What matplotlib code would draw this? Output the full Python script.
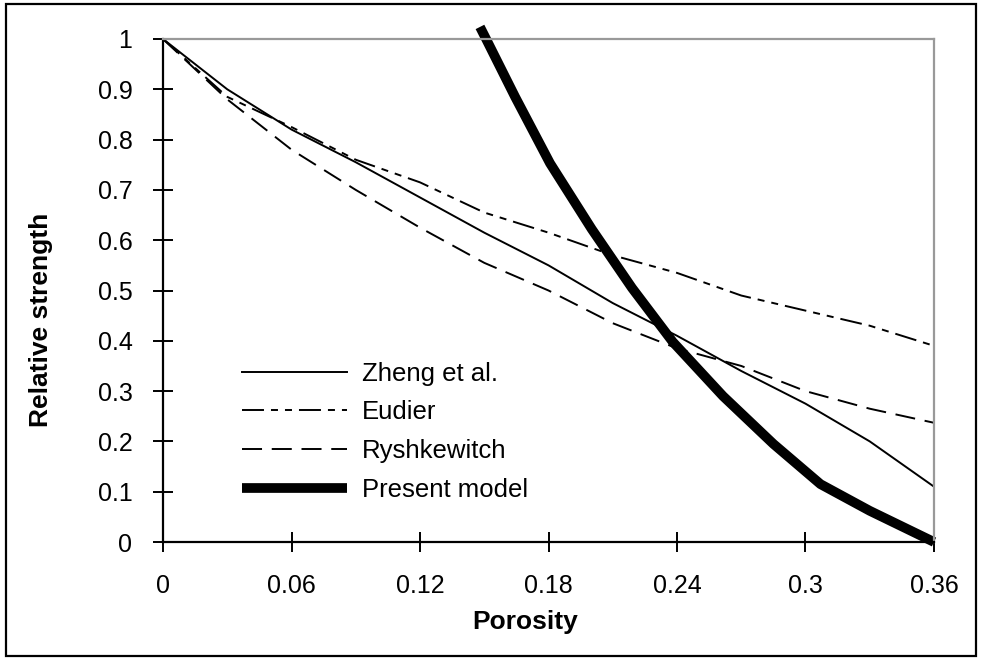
import numpy as np
import matplotlib
matplotlib.use('Agg')
import matplotlib.pyplot as plt
from matplotlib.patches import Rectangle

#-----------------------------------------------------------------------------------------------------#

porosity = [0, 0.03, 0.06, 0.09, 0.12, 0.15, 0.18, 0.21, 0.24, 0.27, 0.30, 0.33, 0.36]
zheng = [1.0, 0.90, 0.82, 0.755, 0.685, 0.615, 0.55, 0.475, 0.41, 0.34, 0.275, 0.20, 0.11]
eudier = [1.0, 0.885, 0.825, 0.76, 0.715, 0.655, 0.615, 0.57, 0.535, 0.49, 0.46, 0.43, 0.39]
ryshkewitch = [1.0, 0.88, 0.78, 0.70, 0.625, 0.555, 0.50, 0.435, 0.385, 0.35, 0.30, 0.265, 0.237]

porosity_model = [0.148, 0.1511, 0.1644, 0.1807, 0.2002, 0.219, 0.238, 0.2615, 0.285, 0.307, 0.33, 0.36]
present_model = [1.024, 0.998, 0.885, 0.753, 0.622, 0.505, 0.398, 0.29, 0.195, 0.115, 0.062, 0.0]

x_ticks = [0, 0.06, 0.12, 0.18, 0.24, 0.3, 0.36]
x_tick_labels = ['0', '0.06', '0.12', '0.18', '0.24', '0.3', '0.36']
y_ticks = [0, 0.1, 0.2, 0.3, 0.4, 0.5, 0.6, 0.7, 0.8, 0.9, 1.0]
y_tick_labels = ['0', '0.1', '0.2', '0.3', '0.4', '0.5', '0.6', '0.7', '0.8', '0.9', '1']

#-----------------------------------------------------------------------------------------------------#

plt.rcParams['font.family'] = ['Liberation Sans', 'DejaVu Sans']

fig = plt.figure(figsize=(9.81, 6.58), dpi=100)
ax = fig.add_axes([163 / 981, 1 - 542 / 658, (934 - 163) / 981, (542 - 39) / 658])

# outer frame round the whole chart
fig.patches.append(Rectangle((6 / 981, 2 / 658), 970 / 981, 652 / 658, transform=fig.transFigure,
                             fill=False, edgecolor='black', linewidth=1.6))

ax.plot(porosity, zheng, color='black', linewidth=1.4, label='Zheng et al.')
ax.plot(porosity, eudier, color='black', linewidth=1.4, dashes=(11.3, 3.6, 3.6, 3.6, 3.6, 3.6), label='Eudier')
ax.plot(porosity, ryshkewitch, color='black', linewidth=1.4, dashes=(10.3, 5), label='Ryshkewitch')
ax.plot(porosity_model, present_model, color='black', linewidth=7, solid_capstyle='butt',
        solid_joinstyle='round', clip_on=False, label='Present model')

ax.set_xlim(0, 0.36)
ax.set_ylim(0, 1)
ax.set_xticks(x_ticks)
ax.set_xticklabels(x_tick_labels)
ax.set_yticks(y_ticks)
ax.set_yticklabels(y_tick_labels)

ax.tick_params(axis='both', direction='inout', length=14, width=1.4, labelsize=18)
ax.tick_params(axis='x', pad=16)
ax.tick_params(axis='y', pad=15)

for side in ['left', 'bottom']:
    ax.spines[side].set_linewidth(1.6)
for side in ['top', 'right']:
    ax.spines[side].set_color('#999999')
    ax.spines[side].set_linewidth(1.6)

ax.set_xlabel('Porosity', fontsize=19, fontweight='bold', va='center')
ax.xaxis.set_label_coords(0.4695, -0.159)
ax.set_ylabel('Relative strength', fontsize=19, fontweight='bold', va='center')
ax.yaxis.set_label_coords(-0.158, 0.441)

ax.legend(loc='lower left', bbox_to_anchor=(0.072, 0.033), frameon=False, fontsize=18.5,
          handlelength=4.1, handletextpad=0.58, labelspacing=0.58)

#-----------------------------------------------------------------------------------------------------#

fig.savefig('out.png', dpi=100)
